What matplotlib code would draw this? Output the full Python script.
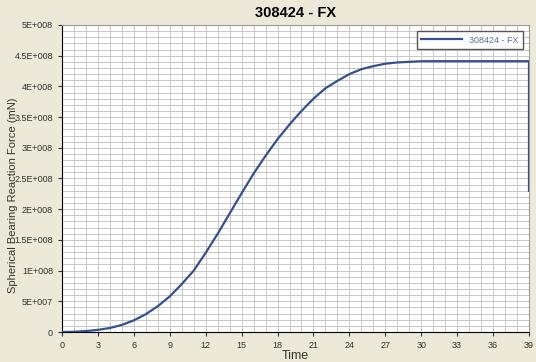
import matplotlib
matplotlib.use('Agg')
import matplotlib.pyplot as plt
from matplotlib.ticker import MultipleLocator, FuncFormatter

plt.rcParams['font.family'] = ['Liberation Sans', 'DejaVu Sans']

# Data
time = list(range(0, 40)) + [39]
force = [0, 0.4e6, 1.5e6, 3.5e6, 6.5e6, 1.15e7, 1.9e7, 2.9e7, 4.2e7, 5.8e7,
         7.8e7, 1.0e8, 1.29e8, 1.6e8, 1.93e8, 2.26e8, 2.58e8, 2.87e8, 3.14e8, 3.38e8,
         3.6e8, 3.8e8, 3.97e8, 4.09e8, 4.2e8, 4.28e8, 4.33e8, 4.37e8, 4.39e8, 4.4e8,
         4.41e8, 4.41e8, 4.41e8, 4.41e8, 4.41e8, 4.41e8, 4.41e8, 4.41e8, 4.41e8, 4.41e8,
         2.3e8]
series_name = '308424 - FX'

bg = '#ECE9D8'
fig = plt.figure(figsize=(5.36, 3.62), dpi=100, facecolor=bg)
ax = fig.add_axes([62 / 536, 1 - 332 / 362, 467 / 536, 307 / 362])
ax.set_facecolor('white')

ax.plot(time, force, color='#34508f', lw=1.6, label=series_name, zorder=3)

ax.set_xlim(0, 39)
ax.set_ylim(0, 5e8)
ax.xaxis.set_major_locator(MultipleLocator(3))
ax.xaxis.set_minor_locator(MultipleLocator(1))
ax.yaxis.set_major_locator(MultipleLocator(5e7))
ax.yaxis.set_minor_locator(MultipleLocator(1e7))


def sci(v, pos):
    if v == 0:
        return '0'
    exp = 0
    m = v
    while m >= 10:
        m /= 10
        exp += 1
    return f'{m:g}E+{exp:03d}'


ax.yaxis.set_major_formatter(FuncFormatter(sci))
ax.grid(which='both', color='#c8c8c8', lw=0.7)
ax.set_axisbelow(True)
ax.tick_params(which='major', labelsize=6.5, colors='#333333', length=3, width=0.8)
ax.tick_params(which='minor', length=0)
for s in ['top', 'right']:
    ax.spines[s].set_color('#999999')
for s in ['left', 'bottom']:
    ax.spines[s].set_color('black')

ax.set_title(series_name, fontsize=10.5, fontweight='bold', pad=6)
ax.set_xlabel('Time', fontsize=9, labelpad=0, color='#333333')
ax.set_ylabel('Spherical Bearing Reaction Force (mN)', fontsize=8, color='#333333')
ax.yaxis.set_label_coords(-0.094, 0.445)

leg = ax.legend(loc='upper right', fontsize=6.5, fancybox=False, framealpha=1,
                edgecolor='#555555', handlelength=4.5, borderpad=0.5,
                bbox_to_anchor=(0.997, 0.995))
for t in leg.get_texts():
    t.set_color('#5a6e9a')

fig.savefig('out.png', dpi=100, facecolor=bg)
